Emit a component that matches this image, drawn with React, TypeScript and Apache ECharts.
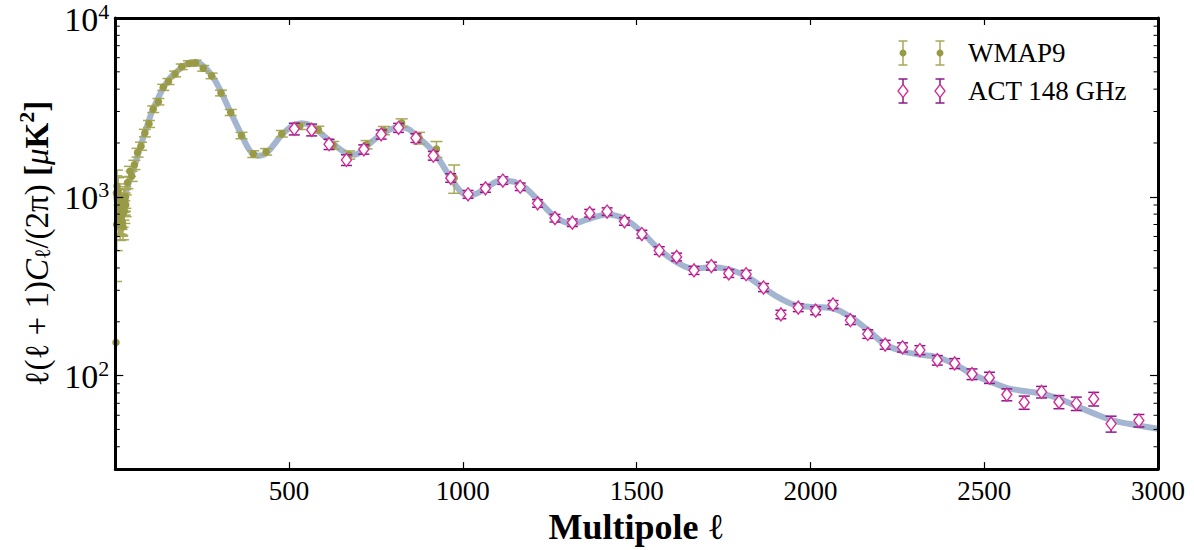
import React, { useEffect, useRef } from 'react';
import * as echarts from 'echarts';

// Theory curve
const theoryL = [2, 10, 23, 37, 52, 66, 81, 95, 109, 124, 138, 157, 177, 196, 215, 228, 240, 253, 277, 301, 330, 364, 383, 397, 411, 436, 479, 512, 537, 565, 615, 666, 690, 715, 765, 815, 838, 865, 915, 965, 992, 1015, 1040, 1065, 1110, 1164, 1214, 1265, 1315, 1364, 1415, 1464, 1514, 1566, 1615, 1665, 1715, 1765, 1814, 1864, 1915, 1965, 2015, 2066, 2115, 2165, 2214, 2264, 2315, 2365, 2415, 2465, 2514, 2564, 2615, 2665, 2715, 2765, 2815, 2865, 2919, 3000];
const theoryD = [1050, 860, 950, 1172, 1416, 1750, 2161, 2614, 3118, 3583, 4064, 4611, 5013, 5388, 5620, 5660, 5600, 5388, 4806, 3985, 3020, 2203, 1862, 1734, 1699, 1766, 2220, 2510, 2580, 2486, 2070, 1750, 1720, 1862, 2224, 2449, 2421, 2203, 1786, 1276, 1079, 1013, 1042, 1115, 1235, 1178, 970, 776, 708, 754, 796, 754, 637, 506, 431, 396, 404, 393, 361, 311, 269, 246, 242, 237, 213, 180, 150, 137, 131, 127, 116, 102, 93, 85.5, 82, 79.3, 74.4, 67.5, 61.5, 56.6, 53.6, 50.5];

// WMAP9 band powers
const wmapL = [2, 3, 4, 5, 6, 7, 8, 9, 10, 11, 12, 13, 14, 15, 16, 17, 18, 19, 20, 21, 22, 23, 24, 25, 26, 27, 28, 29, 30, 35, 42, 47, 55, 64, 74, 85, 97, 109, 124, 138, 153, 172, 191, 212, 231, 253, 277, 304, 332, 363, 397, 434, 479, 531, 584, 627, 673, 723, 773, 824, 874, 924, 975];
const wmapD = [153, 1050, 700, 1150, 900, 1070, 1079, 760, 880, 1000, 760, 838, 700, 940, 800, 740, 787, 720, 723, 800, 680, 870, 960, 970, 830, 920, 963, 1000, 900, 1200, 1390, 1304, 1510, 1767, 1920, 2274, 2558, 3091, 3406, 4095, 4416, 4866, 5337, 5570, 5610, 5233, 4747, 3809, 2964, 2203, 1734, 1786, 2254, 2484, 2377, 1944, 1715, 1958, 2349, 2588, 2134, 1848, 1276];
const wmapErr = [183, 260, 200, 260, 200, 220, 200, 160, 170, 180, 140, 150, 130, 160, 135, 125, 130, 118, 115, 125, 105, 130, 140, 140, 120, 130, 135, 138, 125, 90, 90, 85, 90, 100, 100, 110, 115, 130, 140, 160, 170, 180, 190, 200, 200, 190, 170, 140, 115, 90, 75, 75, 95, 105, 105, 95, 90, 105, 125, 140, 160, 190, 230];

// ACT 148 GHz band powers
const actL = [515, 565, 615, 665, 715, 765, 815, 865, 915, 965, 1015, 1065, 1115, 1165, 1215, 1265, 1315, 1365, 1415, 1465, 1515, 1565, 1615, 1665, 1715, 1765, 1815, 1865, 1915, 1965, 2015, 2065, 2115, 2165, 2215, 2265, 2315, 2365, 2415, 2465, 2515, 2565, 2615, 2665, 2715, 2765, 2815, 2865, 2945];
const actD = [2399, 2371, 1968, 1607, 1842, 2233, 2432, 2133, 1698, 1276, 1033, 1115, 1233, 1139, 919, 760, 717, 810, 827, 729, 619, 501, 461, 388, 410, 373, 369, 311, 220, 240, 231, 250, 204, 171, 149, 144, 139, 122, 117, 102, 97.4, 78.3, 70.8, 81.0, 71.3, 69.8, 74.1, 53.8, 56.1];
const actErr = [180, 180, 130, 110, 110, 130, 140, 120, 95, 70, 52, 55, 60, 55, 45, 37, 35, 40, 40, 36, 31, 25, 23, 20, 21, 19, 19, 16, 12, 12, 12, 13, 11, 9.5, 8.5, 8.5, 8, 7.5, 7.5, 7, 7, 6, 6, 6, 6, 6, 6.5, 5.5, 4.5];

const yMinorTicks = [40, 50, 60, 70, 80, 90, 200, 300, 400, 500, 600, 700, 800, 900, 2000, 3000, 4000, 5000, 6000, 7000, 8000, 9000];
const legendNames = ['WMAP9', 'ACT 148 GHz'];

const FONT = '"Liberation Serif", "DejaVu Serif", serif';
const WMAP_DOT = '#999a45';
const WMAP_BAR = '#a7a957';
const ACT_BAR = '#8a1a8a';
const ACT_EDGE = '#d42a96';
const THEORY = '#a3b5d0';
const Y_MIN = 30;
const Y_MAX = 10000;

function errorBarSeries(name: string, L: number[], D: number[], E: number[], color: string, cap: number, z: number) {
  const data = L.map((l, i) => [l, Math.max(D[i] - E[i], 1), D[i] + E[i]]);
  return {
    type: 'custom',
    name,
    z,
    clip: true,
    data,
    encode: { x: 0, y: [1, 2] },
    renderItem: (_params: any, api: any) => {
      const x = api.value(0);
      const p1 = api.coord([x, api.value(2)]);
      const p2 = api.coord([x, api.value(1)]);
      const style = { stroke: color, lineWidth: 1.5, fill: 'none' };
      return {
        type: 'group',
        children: [
          { type: 'line', shape: { x1: p1[0], y1: p1[1], x2: p2[0], y2: p2[1] }, style },
          { type: 'line', shape: { x1: p1[0] - cap, y1: p1[1], x2: p1[0] + cap, y2: p1[1] }, style },
          { type: 'line', shape: { x1: p2[0] - cap, y1: p2[1], x2: p2[0] + cap, y2: p2[1] }, style },
        ],
      };
    },
  };
}

function legendIcon(cx: number, cy: number, barColor: string, kind: 'dot' | 'diamond') {
  const half = 12;
  const cap = 4.5;
  const style = { stroke: barColor, lineWidth: 1.5 };
  const children: any[] = [
    { type: 'line', shape: { x1: cx, y1: cy - half, x2: cx, y2: cy + half }, style },
    { type: 'line', shape: { x1: cx - cap, y1: cy - half, x2: cx + cap, y2: cy - half }, style },
    { type: 'line', shape: { x1: cx - cap, y1: cy + half, x2: cx + cap, y2: cy + half }, style },
  ];
  if (kind === 'dot') {
    children.push({ type: 'circle', shape: { cx, cy, r: 3.5 }, style: { fill: WMAP_DOT } });
  } else {
    children.push({
      type: 'polygon',
      shape: { points: [[cx, cy - 6.5], [cx + 5, cy], [cx, cy + 6.5], [cx - 5, cy]] },
      style: { fill: '#fff', stroke: ACT_EDGE, lineWidth: 1.3 },
    });
  }
  return children;
}

export default function App() {
  const ref = useRef<HTMLDivElement>(null);

  useEffect(() => {
    const chart = echarts.init(ref.current!, null, { renderer: 'svg' });

    const supLabel = (v: number) => {
      const p = Math.round(Math.log10(v));
      return `{b|10}{s|${p}}`;
    };
    const yLabelRich = {
      b: { fontSize: 34, fontFamily: FONT, color: '#000', lineHeight: 36, verticalAlign: 'bottom' },
      s: { fontSize: 22, fontFamily: FONT, color: '#000', lineHeight: 16, verticalAlign: 'top' },
    };

    const option: any = {
      animation: false,
      backgroundColor: '#fff',
      grid: { left: 115.3, right: 36, top: 17, bottom: 73, containLabel: false },
      xAxis: [
        {
          type: 'value',
          min: 0,
          max: 3000,
          interval: 500,
          position: 'bottom',
          z: 10,
          name: '{bm|Multipole }{it|ℓ}',
          nameLocation: 'middle',
          nameGap: 28,
          nameTextStyle: {
            rich: {
              bm: { fontSize: 36, fontWeight: 'bold', fontFamily: FONT, color: '#000' },
              it: { fontSize: 36, fontFamily: FONT, color: '#000' },
            },
          },
          axisLine: { show: true, onZero: false, lineStyle: { color: '#000', width: 3 } },
          axisTick: { show: true, inside: true, length: 7, lineStyle: { color: '#000', width: 1.2 } },
          axisLabel: {
            show: true,
            margin: 8,
            fontSize: 27,
            fontFamily: FONT,
            color: '#000',
            formatter: (v: number) => (v === 0 ? '' : String(v)),
          },
          splitLine: { show: false },
        },
        {
          type: 'value',
          min: 0,
          max: 3000,
          interval: 500,
          position: 'top',
          z: 10,
          axisLine: { show: true, onZero: false, lineStyle: { color: '#000', width: 3 } },
          axisTick: { show: true, inside: true, length: 7, lineStyle: { color: '#000', width: 1.2 } },
          axisLabel: { show: false },
          splitLine: { show: false },
        },
      ],
      yAxis: [
        {
          type: 'log',
          logBase: 10,
          min: Y_MIN,
          max: Y_MAX,
          position: 'left',
          z: 10,
          name: '{r|ℓ(ℓ + 1)}{i|C}{sub|ℓ}{r|/(2π) }{bb|[}{i|μ}{bb|K}{sup|2}{bb|]}',
          nameLocation: 'middle',
          nameRotate: 90,
          nameGap: 58,
          nameTextStyle: {
            rich: {
              r: { fontSize: 33, fontFamily: FONT, color: '#000', lineHeight: 38, verticalAlign: 'bottom' },
              i: { fontSize: 33, fontFamily: FONT, fontStyle: 'italic', color: '#000', lineHeight: 38, verticalAlign: 'bottom' },
              bb: { fontSize: 33, fontFamily: FONT, fontWeight: 'bold', color: '#000', lineHeight: 38, verticalAlign: 'bottom' },
              sub: { fontSize: 22, fontFamily: FONT, color: '#000', lineHeight: 22, verticalAlign: 'bottom', padding: [0, 0, 0, 0] },
              sup: { fontSize: 22, fontFamily: FONT, fontWeight: 'bold', color: '#000', lineHeight: 20, verticalAlign: 'top' },
            },
          },
          axisLine: { show: true, onZero: false, lineStyle: { color: '#000', width: 3 } },
          axisTick: { show: true, inside: true, length: 8, lineStyle: { color: '#000', width: 1.2 } },
          axisLabel: {
            show: true,
            margin: 6,
            showMinLabel: false,
            showMaxLabel: true,
            formatter: supLabel,
            rich: yLabelRich,
          },
          splitLine: { show: false },
        },
        {
          type: 'log',
          logBase: 10,
          min: Y_MIN,
          max: Y_MAX,
          position: 'right',
          z: 10,
          axisLine: { show: true, onZero: false, lineStyle: { color: '#000', width: 3 } },
          axisTick: { show: true, inside: true, length: 8, lineStyle: { color: '#000', width: 1.2 } },
          axisLabel: { show: false },
          splitLine: { show: false },
        },
      ],
      series: [
        {
          type: 'custom',
          name: 'minorTicks',
          z: 9,
          data: yMinorTicks.map((v) => [0, v]),
          encode: { x: 0, y: 1 },
          renderItem: (params: any, api: any) => {
            const y = api.coord([0, api.value(1)])[1];
            const cs = params.coordSys;
            const style = { stroke: '#000', lineWidth: 1 };
            return {
              type: 'group',
              children: [
                { type: 'line', shape: { x1: cs.x, y1: y, x2: cs.x + 4.5, y2: y }, style },
                { type: 'line', shape: { x1: cs.x + cs.width - 4.5, y1: y, x2: cs.x + cs.width, y2: y }, style },
              ],
            };
          },
        },
        {
          type: 'line',
          name: 'theory',
          z: 1,
          data: theoryL.map((l, i) => [l, theoryD[i]]),
          smooth: 0.4,
          showSymbol: false,
          symbol: 'none',
          lineStyle: { color: THEORY, width: 6 },
        },
        errorBarSeries('WMAP9 err', wmapL, wmapD, wmapErr, WMAP_BAR, 6, 2),
        {
          type: 'scatter',
          name: 'WMAP9',
          z: 3,
          symbol: 'circle',
          symbolSize: 7.5,
          data: wmapL.map((l, i) => [l, wmapD[i]]),
          itemStyle: { color: WMAP_DOT, opacity: 1 },
        },
        errorBarSeries('ACT err', actL, actD, actErr, ACT_BAR, 5.5, 4),
        {
          type: 'scatter',
          name: 'ACT 148 GHz',
          z: 5,
          symbol: 'diamond',
          symbolSize: [10, 13],
          data: actL.map((l, i) => [l, actD[i]]),
          itemStyle: { color: '#fff', borderColor: ACT_EDGE, borderWidth: 1.4, opacity: 1 },
        },
      ],
      graphic: [
        {
          type: 'group',
          children: [
            ...legendIcon(903, 53, WMAP_BAR, 'dot'),
            ...legendIcon(940, 53, WMAP_BAR, 'dot'),
            ...legendIcon(903, 91, ACT_BAR, 'diamond'),
            ...legendIcon(940, 91, ACT_BAR, 'diamond'),
            {
              type: 'text',
              x: 968,
              y: 53,
              style: { text: legendNames[0], font: `27px ${FONT}`, fill: '#000', verticalAlign: 'middle', align: 'left' },
            },
            {
              type: 'text',
              x: 968,
              y: 91,
              style: { text: legendNames[1], font: `27px ${FONT}`, fill: '#000', verticalAlign: 'middle', align: 'left' },
            },
          ],
        },
      ],
    };

    chart.setOption(option);
    return () => chart.dispose();
  }, []);

  return (
    <div
      ref={ref}
      style={{ position: 'fixed', left: 0, top: 0, width: 1194, height: 550, background: '#fff' }}
    />
  );
}
